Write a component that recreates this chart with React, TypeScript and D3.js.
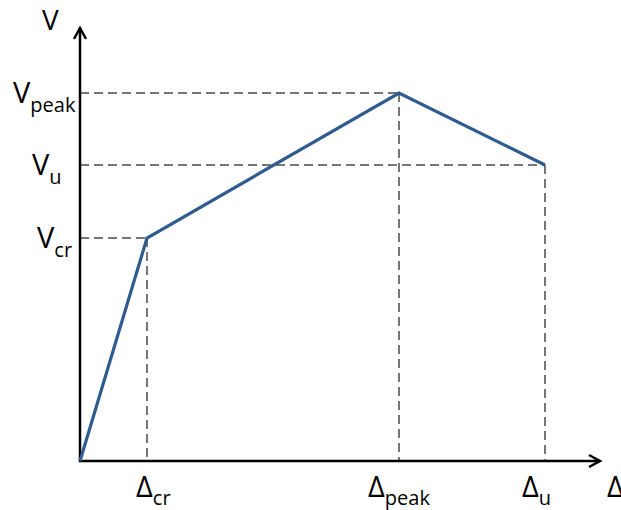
import React, { useEffect, useRef } from 'react';
import * as d3 from 'd3';

// piecewise linear V-Δ backbone (units)
const pointNames = ['origin', 'cr', 'peak', 'u'];
const deltaValues = [0, 67, 319, 465];
const vValues = [0, 223, 368, 296];
const labelSubs = ['', 'cr', 'peak', 'u'];

const width = 621;
const height = 510;

// where each label starts, relative to the guide (layout only)
const yLabelLeft: Record<string, number> = { cr: 37, peak: 13, u: 32 };
const xLabelShift: Record<string, number> = { cr: -11, peak: -31, u: -23 };

export default function App() {
  const ref = useRef<SVGSVGElement>(null);

  useEffect(() => {
    const svg = d3.select(ref.current);
    svg.selectAll('*').remove();

    const x = d3.scaleLinear().domain([0, 520]).range([80, 600]);
    const y = d3.scaleLinear().domain([0, 433]).range([461, 28]);
    const font = '"Open Sans", sans-serif';

    const pts = deltaValues.map((d, i) => ({ name: pointNames[i], d, v: vValues[i], sub: labelSubs[i] }));

    // dashed guides
    const guides = svg.append('g')
      .attr('stroke', '#4a4a4a')
      .attr('stroke-width', 1.5)
      .attr('stroke-dasharray', '9,5')
      .attr('fill', 'none');
    pts.slice(1).forEach(p => {
      guides.append('line')
        .attr('x1', x(0)).attr('x2', x(p.d))
        .attr('y1', y(p.v)).attr('y2', y(p.v));
      guides.append('line')
        .attr('x1', x(p.d)).attr('x2', x(p.d))
        .attr('y1', y(p.v)).attr('y2', y(0));
    });

    // axes
    const axes = svg.append('g').attr('stroke', '#000').attr('stroke-width', 2.5).attr('fill', 'none');
    axes.append('line').attr('x1', x(0)).attr('x2', x(0)).attr('y1', y(0) + 1).attr('y2', y(433));
    axes.append('line').attr('x1', x(0) - 1).attr('x2', x(520)).attr('y1', y(0)).attr('y2', y(0));
    axes.append('polyline')
      .attr('points', `${x(0) - 6},${y(433) + 11} ${x(0)},${y(433)} ${x(0) + 6},${y(433) + 11}`);
    axes.append('polyline')
      .attr('points', `${x(520) - 11},${y(0) - 6} ${x(520)},${y(0)} ${x(520) - 11},${y(0) + 6}`);

    // backbone curve
    const line = d3.line<{ d: number; v: number }>().x(p => x(p.d)).y(p => y(p.v));
    svg.append('path')
      .datum(pts)
      .attr('d', line)
      .attr('fill', 'none')
      .attr('stroke', '#2F5B8F')
      .attr('stroke-width', 3.2)
      .attr('stroke-linejoin', 'miter');

    const label = (tx: number, ty: number, main: string, sub: string, size: number, subDy: number) => {
      const t = svg.append('text')
        .attr('x', tx).attr('y', ty)
        .attr('font-family', font)
        .attr('font-size', size)
        .attr('fill', '#000');
      t.append('tspan').text(main);
      if (sub) t.append('tspan').attr('font-size', 20).attr('dy', subDy).text(sub);
    };

    // y labels
    pts.slice(1).forEach(p => {
      label(yLabelLeft[p.name], y(p.v) + 10, 'V', p.sub, 29, 9);
    });
    label(42, 30, 'V', '', 28, 0);

    // x labels
    pts.slice(1).forEach(p => {
      label(x(p.d) + xLabelShift[p.name], y(0) + 36, 'Δ', p.sub, 29, 8);
    });
    label(607, y(0) + 36, 'Δ', '', 29, 0);
  }, []);

  return (
    <svg ref={ref} width={width} height={height}
      style={{ position: 'absolute', left: 0, top: 0, background: '#fff' }} />
  );
}
